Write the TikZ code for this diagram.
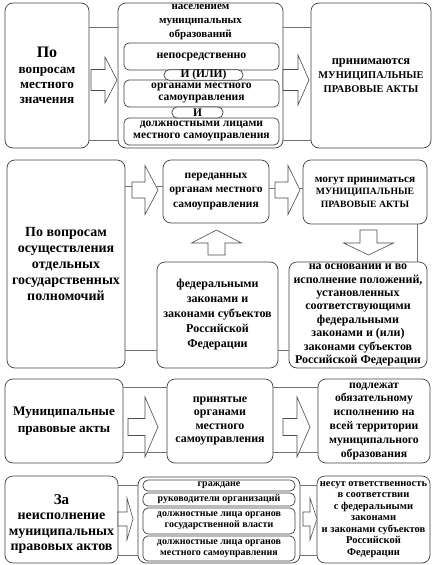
\documentclass[tikz,border=0pt]{standalone}
\usepackage{fontspec}
\setmainfont{Liberation Serif}
\newcommand\blockR[6]{% x0 x1 x2 yc shaft head
  \draw[arr] (#1,#4-#5) -- (#2,#4-#5) -- (#2,#4-#6) -- (#3,#4) -- (#2,#4+#6) -- (#2,#4+#5) -- (#1,#4+#5) -- cycle;}
\newcommand\blockV[6]{% y0 y1 y2 xc shaft head
  \draw[arr] (#4-#5,#1) -- (#4-#5,#2) -- (#4-#6,#2) -- (#4,#3) -- (#4+#6,#2) -- (#4+#5,#2) -- (#4+#5,#1) -- cycle;}
\newcommand\fs[2]{\fontsize{#1}{#2}\selectfont}
\tikzset{
  box/.style={draw=black!75, fill=white, rounded corners=8pt, line width=0.7pt,
    align=center, inner sep=0pt},
  ibox/.style={box, rounded corners=5pt},
  txt/.style={align=center, inner sep=0pt},
  fnt/.style 2 args={font=\bfseries\fs{#1}{#2}},
  link/.style={draw=black!55, line width=0.7pt},
  arr/.style={draw=black!70, fill=white, line width=0.6pt, line join=miter},
}
\begin{document}
\begin{tikzpicture}[x=1pt,y=-1pt]
\useasboundingbox (0,0) rectangle (437,565);
% ---------- Row 1
\node[box, minimum width=84, minimum height=145] (L1) at (47,75.5) {};
\node[txt, fnt={13.2}{15.3}] (L1t) at (47,75.5)
  {{\fontsize{16}{15}\selectfont По}\\вопросам\\местного\\значения};
\node[box, minimum width=165, minimum height=145] (M1) at (200.5,75.5) {};
\node[box, fnt={10.4}{14}, minimum width=120, minimum height=145] (R1) at (371,75.5)
  {{\fontsize{12.5}{14}\selectfont принимаются}\\МУНИЦИПАЛЬНЫЕ\\ПРАВОВЫЕ АКТЫ};
\draw[link] (L1.east |- 0,27) -- (M1.west |- 0,27);
\draw[link] (L1.east |- 0,140) -- (M1.west |- 0,140);
\draw[link] (M1.east |- 0,27) -- (R1.west |- 0,27);
\draw[link] (M1.east |- 0,140) -- (R1.west |- 0,140);
\node[txt, fnt={11}{14}] (T1) at (200.5,22) {населением\\муниципальных\\образований};
\node[ibox, fnt={11.8}{12}, minimum width=155, minimum height=27] (B1) at (201.5,56.5) {непосредственно};
\node[ibox, fnt={11.6}{12}, minimum width=155, minimum height=27] (B2) at (201.5,93.5) {органами местного\\самоуправления};
\node[ibox, fnt={11.6}{12}, minimum width=155, minimum height=27] (B3) at (201.5,131.5) {должностными лицами\\местного самоуправления};
\node[ibox, fnt={11.5}{12}, minimum width=79, minimum height=10] (C1) at (203.5,75) {И (ИЛИ)};
\node[ibox, fnt={11.5}{12}, minimum width=51, minimum height=11] (C2) at (197.5,112.5) {И};
\blockR{91}{105}{117}{80}{10.5}{23}
\blockR{283}{298}{309}{80}{10.5}{25}
% ---------- Row 2
\node[box, fnt={14}{16}, minimum width=118, minimum height=208] (L2) at (66,264)
  {По вопросам\\осуществления\\отдельных\\государственных\\полномочий};
\node[box, fnt={11.5}{14.5}, minimum width=106, minimum height=63] (P2) at (216,191.5)
  {переданных\\органам местного\\самоуправления};
\node[box, fnt={9.7}{12.5}, minimum width=124, minimum height=64] (G2) at (365,192)
  {{\fontsize{11.3}{12.5}\selectfont могут приниматься}\\МУНИЦИПАЛЬНЫЕ\\ПРАВОВЫЕ АКТЫ};
\node[box, fnt={12}{15}, minimum width=121, minimum height=106] (F2) at (217.5,315)
  {федеральными\\законами и\\законами субъектов\\Российской\\Федерации};
\node[box, fnt={12}{13.4}, minimum width=138, minimum height=106] (N2) at (358,315)
  {на основании и во\\исполнение положений,\\установленных\\соответствующими\\федеральными\\законами и (или)\\законами субъектов\\Российской Федерации};
\draw[link] (L2.east |- 0,186) -- (P2.west |- 0,186);
\draw[link] (P2.east |- 0,188) -- (G2.west |- 0,188);
\draw[link] (L2.east |- 0,350) -- (F2.west |- 0,350);
\draw[link] (F2.east |- 0,350) -- (N2.west |- 0,350);
\draw[link] (G2.south -| 417,0) -- (N2.north -| 417,0);
\blockR{132}{145}{158}{190}{8}{24.5}
\blockR{275}{288}{300}{190}{8}{24.5}
\blockV{255}{243}{230}{216.5}{8.5}{25}
\blockV{230}{243}{255}{368.5}{8.5}{25}
% ---------- Row 3
\node[box, fnt={13.2}{17}, minimum width=118, minimum height=84] (L3) at (64,421)
  {Муниципальные\\правовые акты};
\node[box, fnt={12}{13.3}, minimum width=106, minimum height=84] (M3) at (220,421)
  {принятые\\органами\\местного\\самоуправления};
\node[box, fnt={11.7}{13.8}, minimum width=112, minimum height=84] (R3) at (374,421)
  {подлежат\\обязательному\\исполнению на\\всей территории\\муниципального\\образования};
\draw[link] (L3.east |- 0,387) -- (M3.west |- 0,387);
\draw[link] (L3.east |- 0,452) -- (M3.west |- 0,452);
\draw[link] (M3.east |- 0,387) -- (R3.west |- 0,387);
\draw[link] (M3.east |- 0,452) -- (R3.west |- 0,452);
\blockR{128}{145}{158}{427}{8.5}{30}
\blockR{283}{297}{310}{427}{8.5}{30}
% ---------- Row 4
\node[box, minimum width=113, minimum height=87] (L4) at (61.5,519.5) {};
\node[txt, fnt={14}{15.5}] (L4t) at (61.5,524) {{\fontsize{15}{15.5}\selectfont За}\\неисполнение\\муниципальных\\правовых актов};
\node[box, minimum width=162, minimum height=86] (M4) at (219,520) {};
\node[box, fnt={10.5}{11.5}, minimum width=113, minimum height=87] (R4) at (373.5,519.5)
  {несут ответственность\\в соответствии\\с федеральными\\законами\\и законами субъектов\\Российской\\Федерации};
\node[ibox, fnt={10}{11}, minimum width=152, minimum height=11] (I1) at (219,485.5) {граждане};
\node[ibox, fnt={10}{11}, minimum width=152, minimum height=13] (I2) at (219,499.5) {руководители организаций};
\node[ibox, fnt={10}{11}, minimum width=152, minimum height=26] (I3) at (219,521) {должностные лица органов\\государственной власти};
\node[ibox, fnt={10}{11}, minimum width=152, minimum height=25] (I4) at (219,548.5) {должностные лица органов\\местного самоуправления};
\draw[link] (L4.east |- 0,485) -- (M4.west |- 0,485);
\draw[link] (L4.east |- 0,555) -- (M4.west |- 0,555);
\draw[link] (M4.east |- 0,485) -- (R4.west |- 0,485);
\draw[link] (M4.east |- 0,555) -- (R4.west |- 0,555);
\blockR{118}{127}{133}{519}{7}{21}
\blockR{303}{310}{317}{519}{7}{21}
\end{tikzpicture}
\end{document}
